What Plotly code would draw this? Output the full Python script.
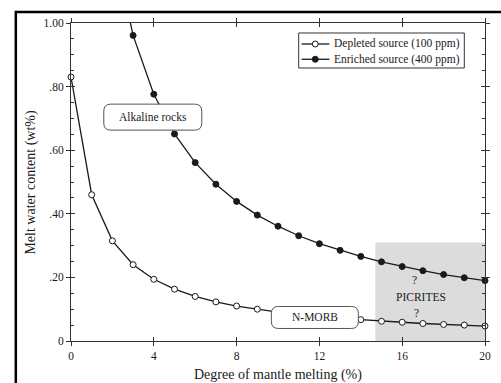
import plotly.graph_objects as go

# ---- data ----
melting = [0, 1, 2, 3, 4, 5, 6, 7, 8, 9, 10, 11, 12, 13, 14, 15, 16, 17, 18, 19, 20]
depleted = [0.83, 0.46, 0.315, 0.24, 0.194, 0.163, 0.140, 0.123, 0.110, 0.100, 0.091,
            0.084, 0.077, 0.072, 0.067, 0.062, 0.059, 0.055, 0.052, 0.050, 0.047]
enriched = [3.33, 1.83, 1.26, 0.961, 0.776, 0.651, 0.561, 0.493, 0.439, 0.396, 0.361,
            0.331, 0.306, 0.285, 0.266, 0.249, 0.234, 0.221, 0.209, 0.199, 0.190]
series_names = ["Depleted source (100 ppm)", "Enriched source (400 ppm)"]

x_tickvals = [0, 4, 8, 12, 16, 20]
x_ticktext = ["0", "4", "8", "12", "16", "20"]
y_tickvals = [0, 0.2, 0.4, 0.6, 0.8, 1.0]
y_ticktext = ["0", ".20", ".40", ".60", ".80", "1.00"]

picrite_x = [14.7, 20]
picrite_y = [0, 0.31]

FONT = "Liberation Serif"
INK = "#1a1a1a"

fig = go.Figure()

styles = [
    dict(symbol="circle", color="white", line=dict(color=INK, width=1), size=6),
    dict(symbol="circle", color=INK, line=dict(color=INK, width=1), size=6),
]
for name, ys, mk in zip(series_names, [depleted, enriched], styles):
    fig.add_trace(go.Scatter(x=melting, y=ys, mode="lines", line=dict(color=INK, width=1.3),
                             showlegend=False, hoverinfo="skip"))
    fig.add_trace(go.Scatter(x=melting, y=ys, mode="markers", marker=mk, cliponaxis=False,
                             name=name, showlegend=False))

# overlay subplot for crossing ticks
fig.add_trace(go.Scatter(x=[None], y=[None], xaxis="x2", yaxis="y2", showlegend=False,
                         hoverinfo="skip"))

tickfont = dict(family=FONT, size=11.5, color=INK)

fig.update_layout(
    width=501, height=383,
    margin=dict(l=71, r=10, t=23, b=42),
    paper_bgcolor="white", plot_bgcolor="white",
    font=dict(family=FONT, color=INK),
    showlegend=False,
    xaxis=dict(range=[0, 20], tickmode="array", tickvals=x_tickvals, ticktext=x_ticktext,
               ticks="outside", ticklen=4, tickcolor="#333", showline=True,
               linecolor="#333", linewidth=1, mirror="ticks", showgrid=False,
               zeroline=False, tickfont=tickfont),
    yaxis=dict(range=[0, 1.0], tickmode="array", tickvals=y_tickvals, ticktext=y_ticktext,
               ticks="outside", ticklen=4, tickcolor="#333", showline=True,
               linecolor="#333", linewidth=1, mirror="ticks", showgrid=False,
               zeroline=False, tickfont=tickfont),
    xaxis2=dict(overlaying="x", matches="x", anchor="y2", tickmode="array",
                tickvals=x_tickvals, ticks="inside", ticklen=4, tickcolor="#333",
                mirror="ticks", showticklabels=False, showline=False,
                showgrid=False, zeroline=False),
    yaxis2=dict(overlaying="y", matches="y", anchor="x2", tickmode="array",
                tickvals=y_tickvals, ticks="inside", ticklen=4, tickcolor="#333",
                mirror="ticks", showticklabels=False, showline=False,
                showgrid=False, zeroline=False,
                minor=dict(ticks="inside", ticklen=3, tickcolor="#333",
                           tickmode="linear", tick0=0, dtick=0.05)),
)

# PICRITES shaded field
fig.add_shape(type="rect", xref="x", yref="y", x0=picrite_x[0], x1=picrite_x[1],
              y0=picrite_y[0], y1=picrite_y[1], fillcolor="#dcdcdc",
              line=dict(width=0), layer="below")

def rounded_box(xc, yc, w, h, r, xref="x", yref="y"):
    p = (f"M {-w+r},{-h} L {w-r},{-h} Q {w},{-h} {w},{-h+r} L {w},{h-r} Q {w},{h} {w-r},{h} "
         f"L {-w+r},{h} Q {-w},{h} {-w},{h-r} L {-w},{-h+r} Q {-w},{-h} {-w+r},{-h} Z")
    fig.add_shape(type="path", xref=xref, yref=yref, xsizemode="pixel", ysizemode="pixel",
                  xanchor=xc, yanchor=yc, path=p, fillcolor="white",
                  line=dict(color="#555", width=1), layer="above")

label_font = dict(family=FONT, size=11.5, color=INK)
rounded_box(3.95, 0.704, 49, 13, 7)
fig.add_annotation(x=3.95, y=0.704, text="Alkaline rocks", showarrow=False, font=label_font)
rounded_box(11.78, 0.074, 43.5, 11, 7)
fig.add_annotation(x=11.78, y=0.074, text="N-MORB", showarrow=False, font=label_font)

fig.add_annotation(x=16.9, y=0.139, text="PICRITES", showarrow=False, font=label_font)
fig.add_annotation(x=16.6, y=0.192, text="?", showarrow=False, font=label_font)
fig.add_annotation(x=16.7, y=0.088, text="?", showarrow=False, font=label_font)

# ---- legend (drawn by hand to match the compact box) ----
fig.add_shape(type="rect", xref="paper", yref="paper", x0=0.55, x1=0.95, y0=0.8585, y1=0.9686,
              line=dict(color="#333", width=1), fillcolor="white", layer="above")
legend_rows = [0.934, 0.886]
for name, mk, yrow in zip(series_names, styles, legend_rows):
    fig.add_shape(type="line", xref="paper", yref="paper", x0=0.557, x1=0.624, y0=yrow, y1=yrow,
                  line=dict(color=INK, width=1.3), layer="above")
    fig.add_shape(type="circle", xref="paper", yref="paper", xsizemode="pixel", ysizemode="pixel",
                  xanchor=0.590, yanchor=yrow, x0=-3, x1=3, y0=-3, y1=3,
                  fillcolor=mk["color"], line=dict(color=INK, width=1), layer="above")
    fig.add_annotation(xref="paper", yref="paper", x=0.631, y=yrow, text=name, showarrow=False,
                       xanchor="left", yanchor="middle", font=label_font)

# axis titles
title_font = dict(family=FONT, size=14, color=INK)
fig.add_annotation(xref="paper", yref="paper", x=-0.0976, y=0.5, text="Melt water content (wt%)",
                   textangle=-90, showarrow=False, font=title_font, xanchor="center", yanchor="middle")
fig.add_annotation(xref="paper", yref="paper", x=0.5, y=-0.108, text="Degree of mantle melting (%)",
                   showarrow=False, font=title_font, xanchor="center", yanchor="middle")

# outer frame of the figure (cut off at right/bottom)
fig.add_shape(type="rect", xref="paper", yref="paper", x0=-0.1333, x1=1.1, y0=-0.3, y1=1.0346,
              line=dict(color="black", width=2.5), fillcolor="rgba(0,0,0,0)", layer="above")

fig.write_html("out.html", config={"displayModeBar": False},
               post_script="document.body.style.margin='0';")
